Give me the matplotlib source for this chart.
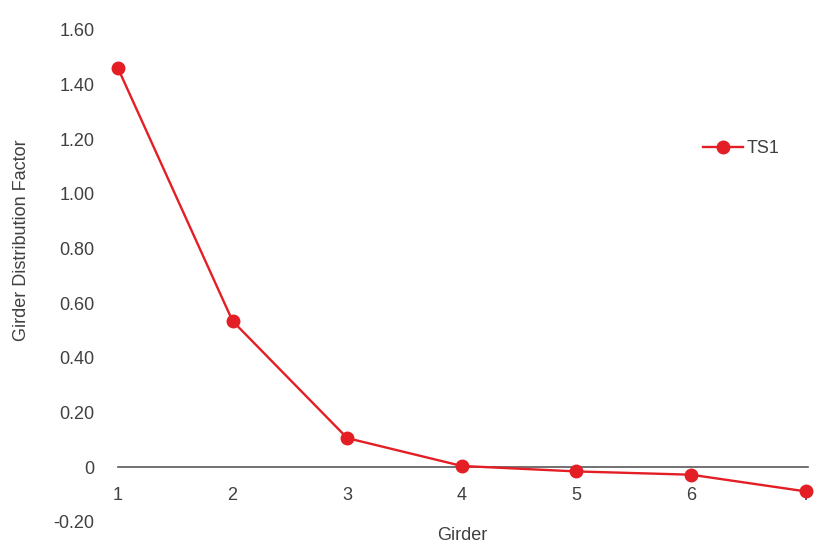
import matplotlib
matplotlib.use("Agg")
import matplotlib.pyplot as plt

# Girder distribution factor per girder
girders = [1, 2, 3, 4, 5, 6, 7]
ts1 = [1.46, 0.535, 0.107, 0.005, -0.015, -0.027, -0.088]
y_ticks = [-0.2, 0.0, 0.2, 0.4, 0.6, 0.8, 1.0, 1.2, 1.4, 1.6]
y_labels = ['-0.20', '0', '0.20', '0.40', '0.60', '0.80', '1.00', '1.20', '1.40', '1.60']

plt.rcParams['font.family'] = ['Liberation Sans', 'DejaVu Sans']

RED = '#e31e24'
TXT = '#404040'

fig = plt.figure(figsize=(8.38, 5.59), dpi=100)
ax = fig.add_axes([118/838, 1 - 522/559, 690/838, 492/559])

ax.plot(girders, ts1, color=RED, lw=1.7, marker='o', ms=9, label='TS1', clip_on=False)

ax.set_xlim(1, 7.02)
ax.set_ylim(-0.2, 1.6)
ax.set_yticks(y_ticks)
ax.set_yticklabels(y_labels)
ax.set_xticks(girders)

for s in ['top', 'right', 'left']:
    ax.spines[s].set_visible(False)
ax.spines['bottom'].set_position(('data', 0))
ax.spines['bottom'].set_color('#595959')
ax.spines['bottom'].set_linewidth(1.2)
ax.spines['bottom'].set_zorder(1)

ax.tick_params(axis='x', length=0, pad=14, labelsize=13, labelcolor=TXT)
ax.tick_params(axis='y', length=0, pad=17, labelsize=13, labelcolor=TXT)

fig.text(462/838, 1 - 535/559, 'Girder', ha='center', va='center', fontsize=13, color=TXT)
fig.text(22/838, 1 - 240/559, 'Girder Distribution Factor', ha='center', va='center',
         rotation=90, fontsize=13, color=TXT)

ax.legend(loc='upper left', bbox_to_anchor=(569/690, 1 - 94/492), frameon=False,
          fontsize=13, handlelength=2.2, handletextpad=0.2, labelcolor=TXT)

fig.savefig('out.png', dpi=100)
